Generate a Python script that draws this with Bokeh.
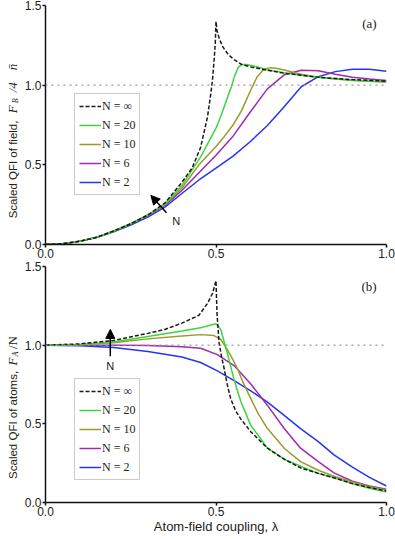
import math
from bokeh.plotting import figure
from bokeh.models import (Range1d, FixedTicker, NumeralTickFormatter, Span, Label,
                          Arrow, NormalHead, Legend, LegendItem)
from bokeh.layouts import column, row
from bokeh.embed import file_html
from bokeh.resources import INLINE

# ---------------- data: panel (a) scaled QFI of field ----------------
a_inf_x = [0.0, 0.05, 0.1, 0.15, 0.2, 0.25, 0.3, 0.35, 0.4, 0.43, 0.455, 0.475, 0.485, 0.49,
           0.495, 0.498, 0.5, 0.503, 0.51, 0.52, 0.535, 0.55, 0.575, 0.6, 0.65, 0.7, 0.75,
           0.8, 0.85, 0.9, 0.95, 1.0]
a_inf_y = [0.0, 0.005, 0.02, 0.045, 0.085, 0.13, 0.185, 0.26, 0.39, 0.48, 0.61, 0.80, 0.95, 1.04,
           1.17, 1.27, 1.40, 1.34, 1.29, 1.24, 1.195, 1.165, 1.13, 1.115, 1.094, 1.075, 1.062,
           1.05, 1.042, 1.035, 1.03, 1.025]

a_20_x = [0.0, 0.05, 0.1, 0.15, 0.2, 0.25, 0.3, 0.35, 0.4, 0.455, 0.475, 0.5, 0.515, 0.53, 0.545,
          0.555, 0.565, 0.575, 0.59, 0.62, 0.65, 0.7, 0.75, 0.8, 0.85, 0.9, 0.95, 1.0]
a_20_y = [0.0, 0.005, 0.02, 0.045, 0.085, 0.13, 0.185, 0.255, 0.37, 0.55, 0.63, 0.73, 0.81, 0.90, 0.99,
          1.06, 1.11, 1.13, 1.13, 1.115, 1.097, 1.078, 1.062, 1.05, 1.04, 1.032, 1.025, 1.02]

a_10_x = [0.0, 0.05, 0.1, 0.15, 0.2, 0.25, 0.3, 0.35, 0.4, 0.45, 0.5, 0.525, 0.55, 0.575, 0.6, 0.62,
          0.64, 0.66, 0.68, 0.7, 0.75, 0.8, 0.85, 0.9, 0.95, 1.0]
a_10_y = [0.0, 0.005, 0.02, 0.045, 0.085, 0.13, 0.185, 0.25, 0.355, 0.50, 0.615, 0.68, 0.75, 0.84, 0.96, 1.05,
          1.10, 1.11, 1.105, 1.095, 1.068, 1.05, 1.038, 1.03, 1.025, 1.02]

a_6_x = [0.0, 0.05, 0.1, 0.15, 0.2, 0.25, 0.3, 0.35, 0.4, 0.45, 0.5, 0.55, 0.6, 0.65, 0.7, 0.75,
         0.8, 0.85, 0.9, 0.95, 1.0]
a_6_y = [0.0, 0.005, 0.02, 0.045, 0.083, 0.128, 0.18, 0.245, 0.34, 0.45, 0.56, 0.68, 0.83, 0.975, 1.065, 1.094,
         1.09, 1.068, 1.05, 1.038, 1.03]

a_2_x = [0.0, 0.05, 0.1, 0.15, 0.2, 0.25, 0.3, 0.35, 0.4, 0.45, 0.5, 0.55, 0.6, 0.65, 0.7, 0.75,
         0.8, 0.85, 0.9, 0.95, 1.0]
a_2_y = [0.0, 0.005, 0.02, 0.044, 0.08, 0.122, 0.172, 0.235, 0.32, 0.405, 0.48, 0.555, 0.645, 0.745, 0.865, 0.99,
         1.053, 1.085, 1.10, 1.10, 1.088]

# ---------------- data: panel (b) scaled QFI of atoms ----------------
b_inf_x = [0.0, 0.1, 0.2, 0.3, 0.35, 0.4, 0.45, 0.475, 0.49, 0.5, 0.503, 0.509, 0.516, 0.524, 0.533,
           0.543, 0.557, 0.573, 0.602, 0.651, 0.7, 0.748, 0.8, 0.846, 0.9, 0.95, 1.0]
b_inf_y = [1.0, 1.008, 1.03, 1.075, 1.1, 1.14, 1.19, 1.265, 1.33, 1.41, 1.2, 1.015, 0.93, 0.85, 0.75,
           0.66, 0.585, 0.53, 0.45, 0.345, 0.275, 0.22, 0.185, 0.157, 0.12, 0.095, 0.073]

b_20_x = [0.0, 0.1, 0.2, 0.3, 0.4, 0.455, 0.48, 0.5, 0.514, 0.523, 0.533, 0.543, 0.553, 0.573, 0.602,
          0.651, 0.7, 0.748, 0.8, 0.846, 0.9, 0.95, 1.0]
b_20_y = [1.0, 1.005, 1.02, 1.055, 1.09, 1.11, 1.125, 1.136, 1.10, 1.03, 0.95, 0.865, 0.78, 0.64, 0.49,
          0.345, 0.275, 0.23, 0.185, 0.157, 0.12, 0.09, 0.067]

b_10_x = [0.0, 0.1, 0.2, 0.3, 0.4, 0.455, 0.494, 0.514, 0.533, 0.548, 0.563, 0.58, 0.602, 0.625, 0.651,
          0.7, 0.748, 0.8, 0.846, 0.9, 0.95, 1.0]
b_10_y = [1.0, 1.003, 1.015, 1.04, 1.058, 1.067, 1.061, 1.036, 0.973, 0.915, 0.85, 0.76, 0.66, 0.56, 0.47,
          0.345, 0.26, 0.205, 0.167, 0.13, 0.1, 0.08]

b_6_x = [0.0, 0.1, 0.2, 0.3, 0.4, 0.455, 0.504, 0.553, 0.602, 0.651, 0.7, 0.748, 0.8, 0.846, 0.9, 0.95, 1.0]
b_6_y = [1.0, 1.0, 1.0, 0.998, 0.99, 0.98, 0.94, 0.87, 0.753, 0.617, 0.47, 0.345, 0.26, 0.188, 0.135, 0.105, 0.085]

b_2_x = [0.0, 0.1, 0.2, 0.3, 0.4, 0.455, 0.504, 0.553, 0.602, 0.651, 0.7, 0.748, 0.8, 0.846, 0.9, 0.95, 1.0]
b_2_y = [1.0, 0.997, 0.985, 0.96, 0.925, 0.89, 0.837, 0.774, 0.71, 0.638, 0.554, 0.47, 0.387, 0.303, 0.225, 0.16, 0.105]

legend_labels = ["N = \u221e", "N = 20", "N = 10", "N = 6", "N = 2"]
x_ticks = [0.0, 0.5, 1.0]
y_ticks = [0.0, 0.5, 1.0, 1.5]

COL_INF = "#1a1a1a"
COL_20 = "#3ed63e"
COL_10 = "#9c9a2e"
COL_6 = "#a02ab0"
COL_2 = "#2536ee"
TXT = "#222222"
SANS = "Liberation Sans"
SERIF = "Liberation Serif"

FRAME_H = 239
LBL_W = 20
W = 375
TOP_B = 5
BOT_A = 17
BOT_B = 31


def make_panel(height, btop, bbottom):
    p = figure(width=W, height=height, x_range=Range1d(0, 1), y_range=Range1d(0, 1.5),
               output_backend="svg", toolbar_location=None,
               min_border_left=25, min_border_right=9, min_border_top=btop,
               min_border_bottom=bbottom)
    p.outline_line_color = None
    p.grid.visible = False
    for ax in (p.xaxis, p.yaxis):
        ax.axis_line_width = 1.5
        ax.axis_line_color = "#111111"
        ax.major_tick_line_width = 1.5
        ax.major_tick_line_color = "#111111"
        ax.major_tick_in = 0
        ax.major_tick_out = 3
        ax.minor_tick_out = 0
        ax.minor_tick_in = 0
        ax.major_label_text_font = SANS
        ax.major_label_text_font_size = "12px"
        ax.major_label_text_color = TXT
        ax.major_label_standoff = 1
        ax.formatter = NumeralTickFormatter(format="0.0")
    p.xaxis.ticker = FixedTicker(ticks=x_ticks)
    p.yaxis.ticker = FixedTicker(ticks=y_ticks)
    p.add_layout(Span(location=1.0, dimension="width", line_color="#9a9a9a",
                      line_dash="2 4", line_width=1.4))
    return p


def make_label_fig(height, btop, bbottom, parts):
    f = figure(width=LBL_W, height=height, x_range=Range1d(0, 1), y_range=Range1d(0, 1.5),
               output_backend="svg", toolbar_location=None,
               x_axis_location=None, y_axis_location=None,
               min_border_left=0, min_border_right=0, min_border_top=btop,
               min_border_bottom=bbottom)
    f.outline_line_color = None
    f.grid.visible = False
    for txt, yv, xv, font, style, size in parts:
        f.add_layout(Label(x=xv, y=yv, text=txt, angle=math.pi / 2, text_align="left",
                           text_baseline="middle", text_font=font, text_font_style=style,
                           text_font_size=size, text_color=TXT))
    return f


def add_curves(p, xs, ys, loc):
    r2 = p.line(xs[4], ys[4], line_color=COL_2, line_width=1.5)
    r6 = p.line(xs[3], ys[3], line_color=COL_6, line_width=1.5)
    r10 = p.line(xs[2], ys[2], line_color=COL_10, line_width=1.5)
    r20 = p.line(xs[1], ys[1], line_color=COL_20, line_width=1.5)
    rinf = p.line(xs[0], ys[0], line_color=COL_INF, line_width=1.5, line_dash="4 2")
    rs = [rinf, r20, r10, r6, r2]
    items = [LegendItem(label=lab, renderers=[r]) for lab, r in zip(legend_labels, rs)]
    leg = Legend(items=items, location=loc, label_text_font=SERIF,
                 label_text_font_size="12px", label_text_color=TXT,
                 glyph_width=22, glyph_height=16, label_height=16, label_standoff=1,
                 spacing=3, padding=4, margin=0, border_line_color="#9a9a9a",
                 border_line_width=1, background_fill_color="white", background_fill_alpha=1)
    p.add_layout(leg)


# ---------------- panel (a) ----------------
ha = TOP_B + FRAME_H + BOT_A
pa = make_panel(ha, TOP_B, BOT_A)
add_curves(pa, [a_inf_x, a_20_x, a_10_x, a_6_x, a_2_x],
           [a_inf_y, a_20_y, a_10_y, a_6_y, a_2_y], (29, 49))
pa.add_layout(Label(x=0.95, y=1.39, text="(a)", text_align="center", text_baseline="middle",
                    text_font=SERIF, text_font_size="13px", text_color=TXT))
pa.add_layout(Arrow(end=NormalHead(size=9, fill_color="black", line_color="black"),
                    x_start=0.355, y_start=0.20, x_end=0.309, y_end=0.308,
                    line_color="black", line_width=1.5))
pa.add_layout(Label(x=0.383, y=0.15, text="N", text_align="center", text_baseline="middle",
                    text_font=SANS, text_font_size="11px", text_color=TXT))
la = make_label_fig(ha, TOP_B, BOT_A, [
    ("Scaled QFI of field,", 0.164, 0.60, SANS, "normal", "11.5px"),
    ("F", 0.824, 0.60, SERIF, "italic", "13px"),
    ("B", 0.887, 0.75, SERIF, "italic", "8px"),
    ("/4", 0.955, 0.60, SERIF, "italic", "13px"),
    ("n\u0304", 1.094, 0.60, SERIF, "italic", "13px"),
])

# ---------------- panel (b) ----------------
hb = TOP_B + FRAME_H + BOT_B
pb = make_panel(hb, TOP_B, BOT_B)
add_curves(pb, [b_inf_x, b_20_x, b_10_x, b_6_x, b_2_x],
           [b_inf_y, b_20_y, b_10_y, b_6_y, b_2_y], (29, 22))
pb.add_layout(Label(x=0.949, y=1.375, text="(b)", text_align="center", text_baseline="middle",
                    text_font=SERIF, text_font_size="13px", text_color=TXT))
pb.add_layout(Arrow(end=NormalHead(size=9, fill_color="black", line_color="black"),
                    x_start=0.19, y_start=0.93, x_end=0.19, y_end=1.10,
                    line_color="black", line_width=1.5))
pb.add_layout(Label(x=0.19, y=0.87, text="N", text_align="center", text_baseline="middle",
                    text_font=SANS, text_font_size="11px", text_color=TXT))
pb.xaxis.axis_label = "Atom-field coupling, \u03bb"
pb.xaxis.axis_label_text_font = SANS
pb.xaxis.axis_label_text_font_size = "13px"
pb.xaxis.axis_label_text_font_style = "normal"
pb.xaxis.axis_label_text_color = TXT
pb.xaxis.axis_label_standoff = 0
lb = make_label_fig(hb, TOP_B, BOT_B, [
    ("Scaled QFI of atoms,", 0.15, 0.60, SANS, "normal", "11.5px"),
    ("F", 0.87, 0.60, SERIF, "italic", "13px"),
    ("A", 0.928, 0.75, SERIF, "italic", "8px"),
    ("/N", 0.975, 0.60, SERIF, "normal", "13px"),
])

layout = column(row(la, pa, spacing=0), row(lb, pb, spacing=0), spacing=0)
open("out.html", "w").write(file_html(layout, INLINE))
